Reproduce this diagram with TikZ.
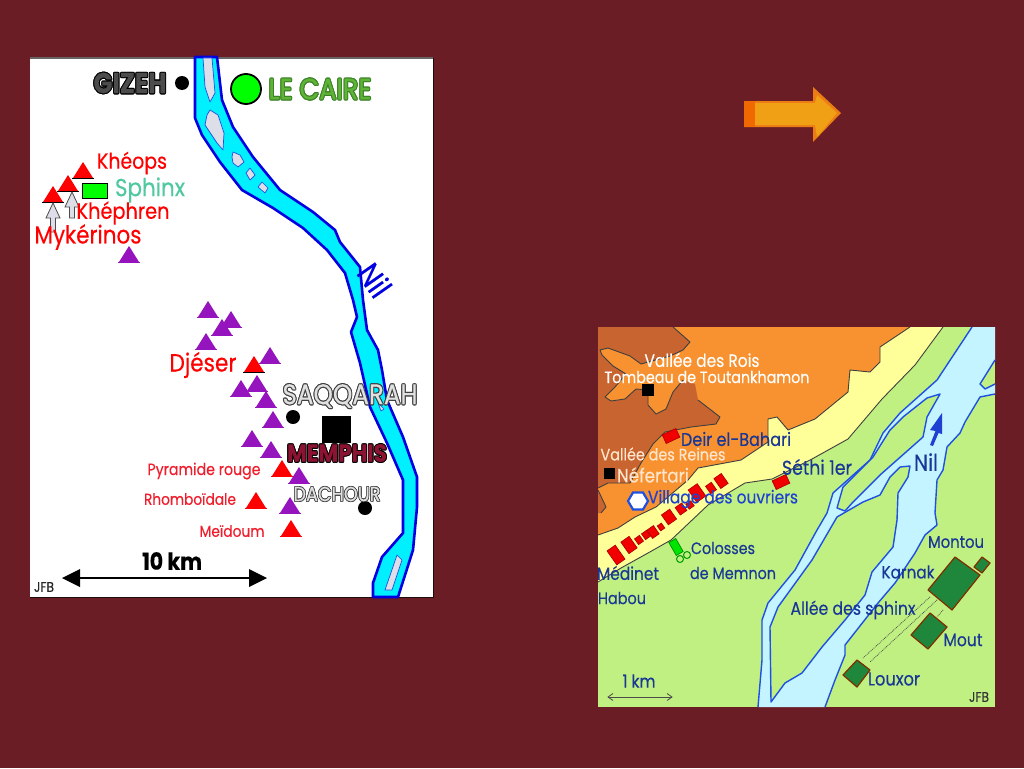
\documentclass[tikz,border=0pt]{standalone}
\usepackage{graphicx}
\usepackage{fontspec}
\setmainfont{Poppins}[FakeBold=0.35]
\definecolor{bgc}{RGB}{107,29,38}
\definecolor{nilc}{RGB}{0,240,255}
\definecolor{nilb}{RGB}{0,0,225}
\definecolor{isl}{RGB}{222,222,232}
\definecolor{grn}{RGB}{192,240,130}
\definecolor{yel}{RGB}{255,255,153}
\definecolor{org}{RGB}{248,146,48}
\definecolor{brn}{RGB}{200,100,48}
\definecolor{riv}{RGB}{196,244,255}
\definecolor{rivb}{RGB}{30,80,225}
\definecolor{navy}{RGB}{25,55,150}
\definecolor{blu}{RGB}{30,65,210}
\definecolor{pur}{RGB}{150,20,190}
\definecolor{temple}{RGB}{30,135,60}
\definecolor{templeb}{RGB}{130,45,0}
\definecolor{redt}{RGB}{240,30,45}
\definecolor{sph}{RGB}{80,200,160}
\definecolor{arrA}{RGB}{235,125,20}
\definecolor{arrB}{RGB}{240,160,20}
\definecolor{arrC}{RGB}{240,105,0}
\definecolor{caireA}{RGB}{60,130,40}
\definecolor{caireB}{RGB}{95,180,55}
\definecolor{memB}{RGB}{140,20,50}
\newcommand\offc[3]{\rlap{\kern#1pt\raisebox{#2pt}{#3}}}
\newcommand\outl[3]{\leavevmode
  \offc{-.8}{0}{\color{#1}#3}\offc{.8}{0}{\color{#1}#3}\offc{0}{.8}{\color{#1}#3}\offc{0}{-.8}{\color{#1}#3}%
  \offc{-.6}{-.6}{\color{#1}#3}\offc{.6}{-.6}{\color{#1}#3}\offc{-.6}{.6}{\color{#1}#3}\offc{.6}{.6}{\color{#1}#3}%
  {\color{#2}#3}}
\newcommand\fit[2]{\scalebox{1}[1.15]{\resizebox{#1pt}{!}{\fontsize{20}{24}\selectfont #2}}}
\newcommand\pyramid[3]{\fill[#3] (#1-10,#2) -- (#1,#2-16) -- (#1+10,#2) -- cycle;}
\tikzset{
  lbl/.style={inner sep=0pt,anchor=center},
  bld/.style={draw=red!70!black,fill=red!95!black,line width=.7pt,inner sep=0pt},
  temp/.style={fill=temple,draw=templeb,line width=1.2pt,line join=round},
  bank/.style={draw=rivb,line width=1.4pt,line join=round},
  edge/.style={draw=black!75,line width=.9pt,line join=round},
}
\begin{document}
\begin{tikzpicture}[x=1pt,y=-1pt]
\useasboundingbox (0,0) rectangle (1024,768);
\fill[bgc] (0,0) rectangle (1024,768);
% ---------- left map
\fill[white] (30,57) rectangle (433,597);
\draw[black!60,line width=1pt] (30,58) -- (433,58);
\draw[black!70!bgc,line width=.8pt] (433,58) -- (433,597) -- (30,597);
\draw[fill=nilc,draw=nilb,line width=2.6pt,line join=round]
 (195,57) -- (195,118) -- (202,135) -- (220,162) -- (242,190) -- (273,208) -- (303,228) -- (327,250) -- (345,273) -- (353,300) -- (357,317) -- (351,332) -- (360,363) -- (370,407) -- (387,443) -- (403,480) -- (403,533) -- (382,557) -- (373,583) -- (373,597)
 -- (398,597) -- (413,550) -- (417,507) -- (417,477) -- (403,437) -- (387,400) -- (382,370) -- (378,350) -- (367,330) -- (363,300) -- (360,267) -- (340,242) -- (335,230) -- (313,212) -- (280,190) -- (253,157) -- (233,127) -- (222,100) -- (217,57) -- cycle;
\foreach \isle in {
 {(203,58) -- (212,58) -- (215,93) -- (210,102) -- (205,87)},
 {(210,110) -- (218,115) -- (224,133) -- (223,150) -- (217,143) -- (205,125) -- (207,115)},
 {(233,152) -- (240,155) -- (244,162) -- (238,167) -- (233,163) -- (232,157)},
 {(250,168) -- (255,175) -- (250,180) -- (246,173)},
 {(262,182) -- (268,188) -- (265,193) -- (258,187)},
 {(397,555) -- (402,560) -- (392,590) -- (385,590)},
 {(378,403) -- (384,409) -- (381,411)}}
 {\draw[fill=isl,draw=rivb,line width=.7pt,line join=round] \isle -- cycle;}
% pyramids
\foreach \x/\y in {129/262,208/317,231/327,222/335,206/349,270/363,241/396,257/391,266/407,273/427,252/446,271/457,299/483,290/513}
 {\pyramid{\x}{\y}{pur}\draw[pur,line width=1pt] (\x-11,\y) -- (\x+11,\y);}
\foreach \x/\y in {83/178,68/191,53/202,254/372}
 {\pyramid{\x}{\y}{red}\draw[black,line width=1pt] (\x-11,\y) -- (\x+11,\y);}
\foreach \x/\y in {282/476,256/508,291/536}
 {\pyramid{\x}{\y}{red}\draw[red,line width=1pt] (\x-11,\y) -- (\x+11,\y);}
% pointers
\foreach \x/\y/\l in {53/203/29,72/192/26}
 {\draw[fill=isl,draw=black!70,line width=.8pt,line join=miter]
   (\x,\y) -- (\x+7,\y+15) -- (\x+2.5,\y+15) -- (\x+2.5,\y+\l) -- (\x-2.5,\y+\l) -- (\x-2.5,\y+15) -- (\x-7,\y+15) -- cycle;}
\node[draw=black,fill=green,line width=.8pt,minimum width=25pt,minimum height=15pt,inner sep=0pt] (sphinxbox) at (94.5,190.5) {};
\node[circle,fill=black,minimum size=14pt,inner sep=0pt] (gizehdot) at (182,83) {};
\node[circle,fill=green,draw=black,line width=1.8pt,minimum size=30pt,inner sep=0pt] (caire) at (246,89) {};
\node[circle,fill=black,minimum size=14pt,inner sep=0pt] (saqdot) at (293,417) {};
\node[circle,fill=black,minimum size=14pt,inner sep=0pt] (dacdot) at (365,508) {};
\node[fill=black,minimum width=29pt,minimum height=27pt,inner sep=0pt] (memphisbox) at (336.5,429) {};
% scale bar
\coordinate (barA) at (62,578); \coordinate (barB) at (267,578);
\draw[black,line width=2.8pt] (75,578) -- (254,578);
\fill[black] (barA) -- (80,569) -- (80,587) -- cycle;
\fill[black] (barB) -- (249,569) -- (249,587) -- cycle;
% left labels
\node[lbl] (gizeh) at (130,83) {\fit{73}{\outl{black}{black!70}{\textbf{GIZEH}}}};
\node[lbl] (cairetxt) at (320,89) {\fit{103}{\outl{caireA}{caireB}{LE CAIRE}}};
\node[lbl,text=red] (kheops) at (132,163) {\fit{70}{Khéops}};
\node[lbl,text=sph] (sphinx) at (150,190) {\fit{70}{Sphinx}};
\node[lbl,text=red] (khephren) at (123,213) {\fit{93}{Khéphren}};
\node[lbl,text=red] (mykerinos) at (88,237) {\fit{107}{Mykérinos}};
\node[lbl,text=nilb,rotate=-55] (nilA) at (375,280) {\fit{33}{Nil}};
\node[lbl,text=red] (djeser) at (203,365) {\fit{67}{Djéser}};
\node[lbl] (saq) at (350,396) {\fit{135}{\outl{black!75}{black!12}{SAQQARAH}}};
\node[lbl] (mem) at (337,453) {\fit{100}{\outl{black}{memB}{\textbf{MEMPHIS}}}};
\node[lbl] (dac) at (337,494) {\fit{87}{\outl{black!75}{black!12}{DACHOUR}}};
\node[lbl,text=redt] (rouge) at (204,471) {\fit{113}{Pyramide rouge}};
\node[lbl,text=redt] (rhomb) at (190,499) {\fit{92}{Rhomboïdale}};
\node[lbl,text=redt] (meidoum) at (232,531) {\fit{65}{Meïdoum}};
\node[lbl,text=black] (tenkm) at (172,561) {\fit{60}{\textbf{10 km}}};
\node[lbl,text=black!85] (jfbA) at (44,587) {\fit{20}{JFB}};
% ---------- arrow
\fill[arrA] (744,101) -- (813,101) -- (813,87) -- (841,113) -- (813,142) -- (813,127) -- (744,127) -- cycle;
\fill[arrC] (744,101) rectangle (755,127);
\fill[arrB] (755,103) -- (815,103) -- (817,95) -- (837,113) -- (817,137) -- (815,125) -- (755,125) -- cycle;
% ---------- right map
\fill[grn] (598,327) rectangle (995,707);
\fill[yel] (598,582) -- (621,568) -- (648,553) -- (671,540) -- (708,505) -- (745,483) -- (772,479) -- (812,459) -- (848,439) -- (882,399) -- (915,365) -- (943,327) -- (598,327) -- cycle;
\draw[edge] (598,582) -- (621,568) -- (648,553) -- (671,540) -- (708,505) -- (745,483) -- (772,479) -- (812,459) -- (848,439) -- (882,399) -- (915,365) -- (943,327);
\fill[org] (598,535) -- (618,528) -- (635,517) -- (656,507) -- (688,480) -- (698,468) -- (741,460) -- (768,442) -- (768,419) -- (777,417) -- (788,430) -- (815,419) -- (848,392) -- (850,370) -- (870,372) -- (880,362) -- (880,347) -- (910,327) -- (598,327) -- cycle;
\draw[edge] (598,535) -- (618,528) -- (635,517) -- (656,507) -- (688,480) -- (698,468) -- (741,460) -- (768,442) -- (768,419) -- (777,417) -- (788,430) -- (815,419) -- (848,392) -- (850,370) -- (870,372) -- (880,362) -- (880,347) -- (910,327);
\fill[brn] (598,327) -- (673,327) -- (690,342) -- (683,350) -- (670,356) -- (641,364) -- (630,356) -- (608,348) -- (600,350) -- (602,355) -- (613,366) -- (626,374) -- (615,387) -- (605,397) -- (611,401) -- (625,399) -- (636,389) -- (648,390) -- (648,405) -- (656,414) -- (666,409) -- (673,392) -- (683,380) -- (695,384) -- (698,400) -- (720,417) -- (716,424) -- (691,427) -- (665,432) -- (653,444) -- (641,463) -- (630,483) -- (608,483) -- (598,488) -- cycle;
\draw[edge] (673,327) -- (690,342) -- (683,350) -- (670,356) -- (641,364) -- (630,356) -- (608,348) -- (600,350) -- (602,355) -- (613,366) -- (626,374) -- (615,387) -- (605,397) -- (611,401) -- (625,399) -- (636,389) -- (648,390) -- (648,405) -- (656,414) -- (666,409) -- (673,392) -- (683,380);
\draw[edge] (698,400) -- (720,417) -- (716,424) -- (691,427) -- (665,432) -- (653,444) -- (641,463) -- (630,483) -- (608,483) -- (598,488);
\fill[brn] (598,490) -- (606,507) -- (601,513) -- (598,513) -- cycle;
\draw[edge] (598,490) -- (606,507) -- (601,513);
% river
\fill[riv] (758,707) -- (762,660) -- (762,620) -- (768,603) -- (795,570) -- (817,530) -- (827,513) -- (833,493) -- (870,460) -- (883,433) -- (900,413) -- (937,380) -- (972,327) -- (995,327) -- (995,360) -- (980,384) -- (985,389) -- (995,384) -- (995,394) -- (980,397) -- (965,422) -- (960,433) -- (947,447) -- (943,470) -- (937,480) -- (935,513) -- (937,525) -- (925,535) -- (915,553) -- (895,583) -- (878,603) -- (845,645) -- (845,655) -- (835,680) -- (825,707) -- cycle;
\draw[bank] (758,707) -- (762,660) -- (762,620) -- (768,603) -- (795,570) -- (817,530) -- (827,513) -- (833,493) -- (870,460) -- (883,433) -- (900,413) -- (937,380) -- (972,327);
\draw[bank] (995,360) -- (980,384) -- (985,389) -- (995,384);
\draw[bank] (995,394) -- (980,397) -- (965,422) -- (960,433) -- (947,447) -- (943,470) -- (937,480) -- (935,513) -- (937,525) -- (925,535) -- (915,553) -- (895,583) -- (878,603) -- (845,645) -- (845,655) -- (835,680) -- (825,707);
\draw[bank,fill=grn] (940,394) -- (927,398) -- (903,417) -- (890,430) -- (873,457) -- (843,487) -- (837,508) -- (845,511) -- (853,502) -- (880,475) -- (923,437) -- (927,417) -- cycle;
\draw[bank,fill=grn] (910,466) -- (900,467) -- (890,477) -- (880,495) -- (863,502) -- (837,517) -- (812,560) -- (778,607) -- (770,627) -- (771,702) -- (785,683) -- (802,673) -- (822,647) -- (845,620) -- (865,595) -- (872,572) -- (893,547) -- (897,520) -- (898,493) -- (908,477) -- cycle;
% blue arrow
\fill[blu] (942,413) -- (930,430) -- (935.5,431) -- (930,445) -- (933,446) -- (938.5,433) -- (942,434) -- cycle;
% buildings
\foreach \x/\y/\w/\h in {616/555/10/17,629/545/10/14,639/540/6/7,646/535/6/7,653/532/8/10,661/527/5/6,669/517/10/12,681/509/8/9,690/505/6/6,697/493/11/15,711/488/7/9,721/481/9/12}
 {\node[bld,rotate=35,minimum width=\w pt,minimum height=\h pt] at (\x,\y) {};}
\node[bld,rotate=25,minimum width=15pt,minimum height=9.5pt] (deir) at (671,436) {};
\node[bld,rotate=25,minimum width=15pt,minimum height=9.5pt] (sethi) at (781,482) {};
\node[fill=black,minimum size=12pt,inner sep=0pt] (tomb) at (648,390) {};
\node[fill=black,minimum size=11pt,inner sep=0pt] (nef) at (609,473) {};
\draw[draw=rivb,fill=white,line width=2.2pt] (628,501) -- (633,492.5) -- (643,492.5) -- (648,501) -- (643,509.5) -- (633,509.5) -- cycle;
\node[draw=green!55!black,fill=green!90!black,rotate=30,minimum width=8pt,minimum height=15pt,inner sep=0pt,line width=.7pt] (colbox) at (676,547) {};
\node[circle,draw=green!60!black,line width=1pt,minimum size=7pt,inner sep=0pt] (colA) at (680,559) {};
\node[circle,draw=green!60!black,line width=1pt,minimum size=7pt,inner sep=0pt] (colB) at (687,555) {};
% avenue
\draw[black!70,densely dotted,line width=.8pt] (930,597) -- (863,658);
\draw[black!70,densely dotted,line width=.8pt] (937,600) -- (870,662);
\draw[black!70,densely dotted,line width=.8pt] (943,610) -- (937,617);
% temples
\draw[temp] (955,557) -- (980,575) -- (952,610) -- (928,590) -- cycle;
\draw[temp] (982,557) -- (990,563) -- (982,573) -- (974,567) -- cycle;
\draw[temp] (930,613) -- (947,627) -- (928,649) -- (911,635) -- cycle;
\draw[temp] (857,660) -- (870,670) -- (857,687) -- (843,675) -- cycle;
% scale
\coordinate (kmA) at (608,697); \coordinate (kmB) at (672,697);
\draw[black!70,line width=.8pt] (kmA) -- (kmB);
\draw[black!70,line width=.8pt] (613,693.5) -- (kmA) -- (613,700.5);
\draw[black!70,line width=.8pt] (667,693.5) -- (kmB) -- (667,700.5);
% right labels
\node[lbl,text=white] (rois) at (702,360) {\fit{115}{Vallée des Rois}};
\node[lbl,text=white] (touta) at (707,377) {\fit{205}{Tombeau de Toutankhamon}};
\node[lbl,text=navy] (deirt) at (736,439) {\fit{110}{Deir el-Bahari}};
\node[lbl,text=orange!20!white] (reines) at (663,454) {\fit{125}{Vallée des Reines}};
\node[lbl,text=orange!20!white] (neft) at (653,475) {\fit{72}{Néfertari}};
\node[lbl,text=blu] (village) at (723,499) {\fit{150}{Village des ouvriers}};
\node[lbl,text=navy] (setht) at (817,467) {\fit{70}{Séthi 1er}};
\node[lbl,text=navy] (nilB) at (926,462) {\fit{24}{Nil}};
\node[lbl,text=navy] (coloss) at (723,548) {\fit{64}{Colosses}};
\node[lbl,text=navy] (memnon) at (733,573) {\fit{86}{de Memnon}};
\node[lbl,text=navy] (medinet) at (628,573) {\fit{62}{Médinet}};
\node[lbl,text=navy] (habou) at (622,598) {\fit{48}{Habou}};
\node[lbl,text=navy] (allee) at (853,610) {\fit{125}{Allée des sphinx}};
\node[lbl,text=navy] (karnak) at (908,572) {\fit{53}{Karnak}};
\node[lbl,text=navy] (montou) at (956,542) {\fit{56}{Montou}};
\node[lbl,text=navy] (moutt) at (963,640) {\fit{39}{Mout}};
\node[lbl,text=navy] (louxor) at (894,679) {\fit{52}{Louxor}};
\node[lbl,text=navy] (onekm) at (639,681) {\fit{33}{1 km}};
\node[lbl,text=black!80] (jfbB) at (979,697) {\fit{20}{JFB}};
\end{tikzpicture}
\end{document}
